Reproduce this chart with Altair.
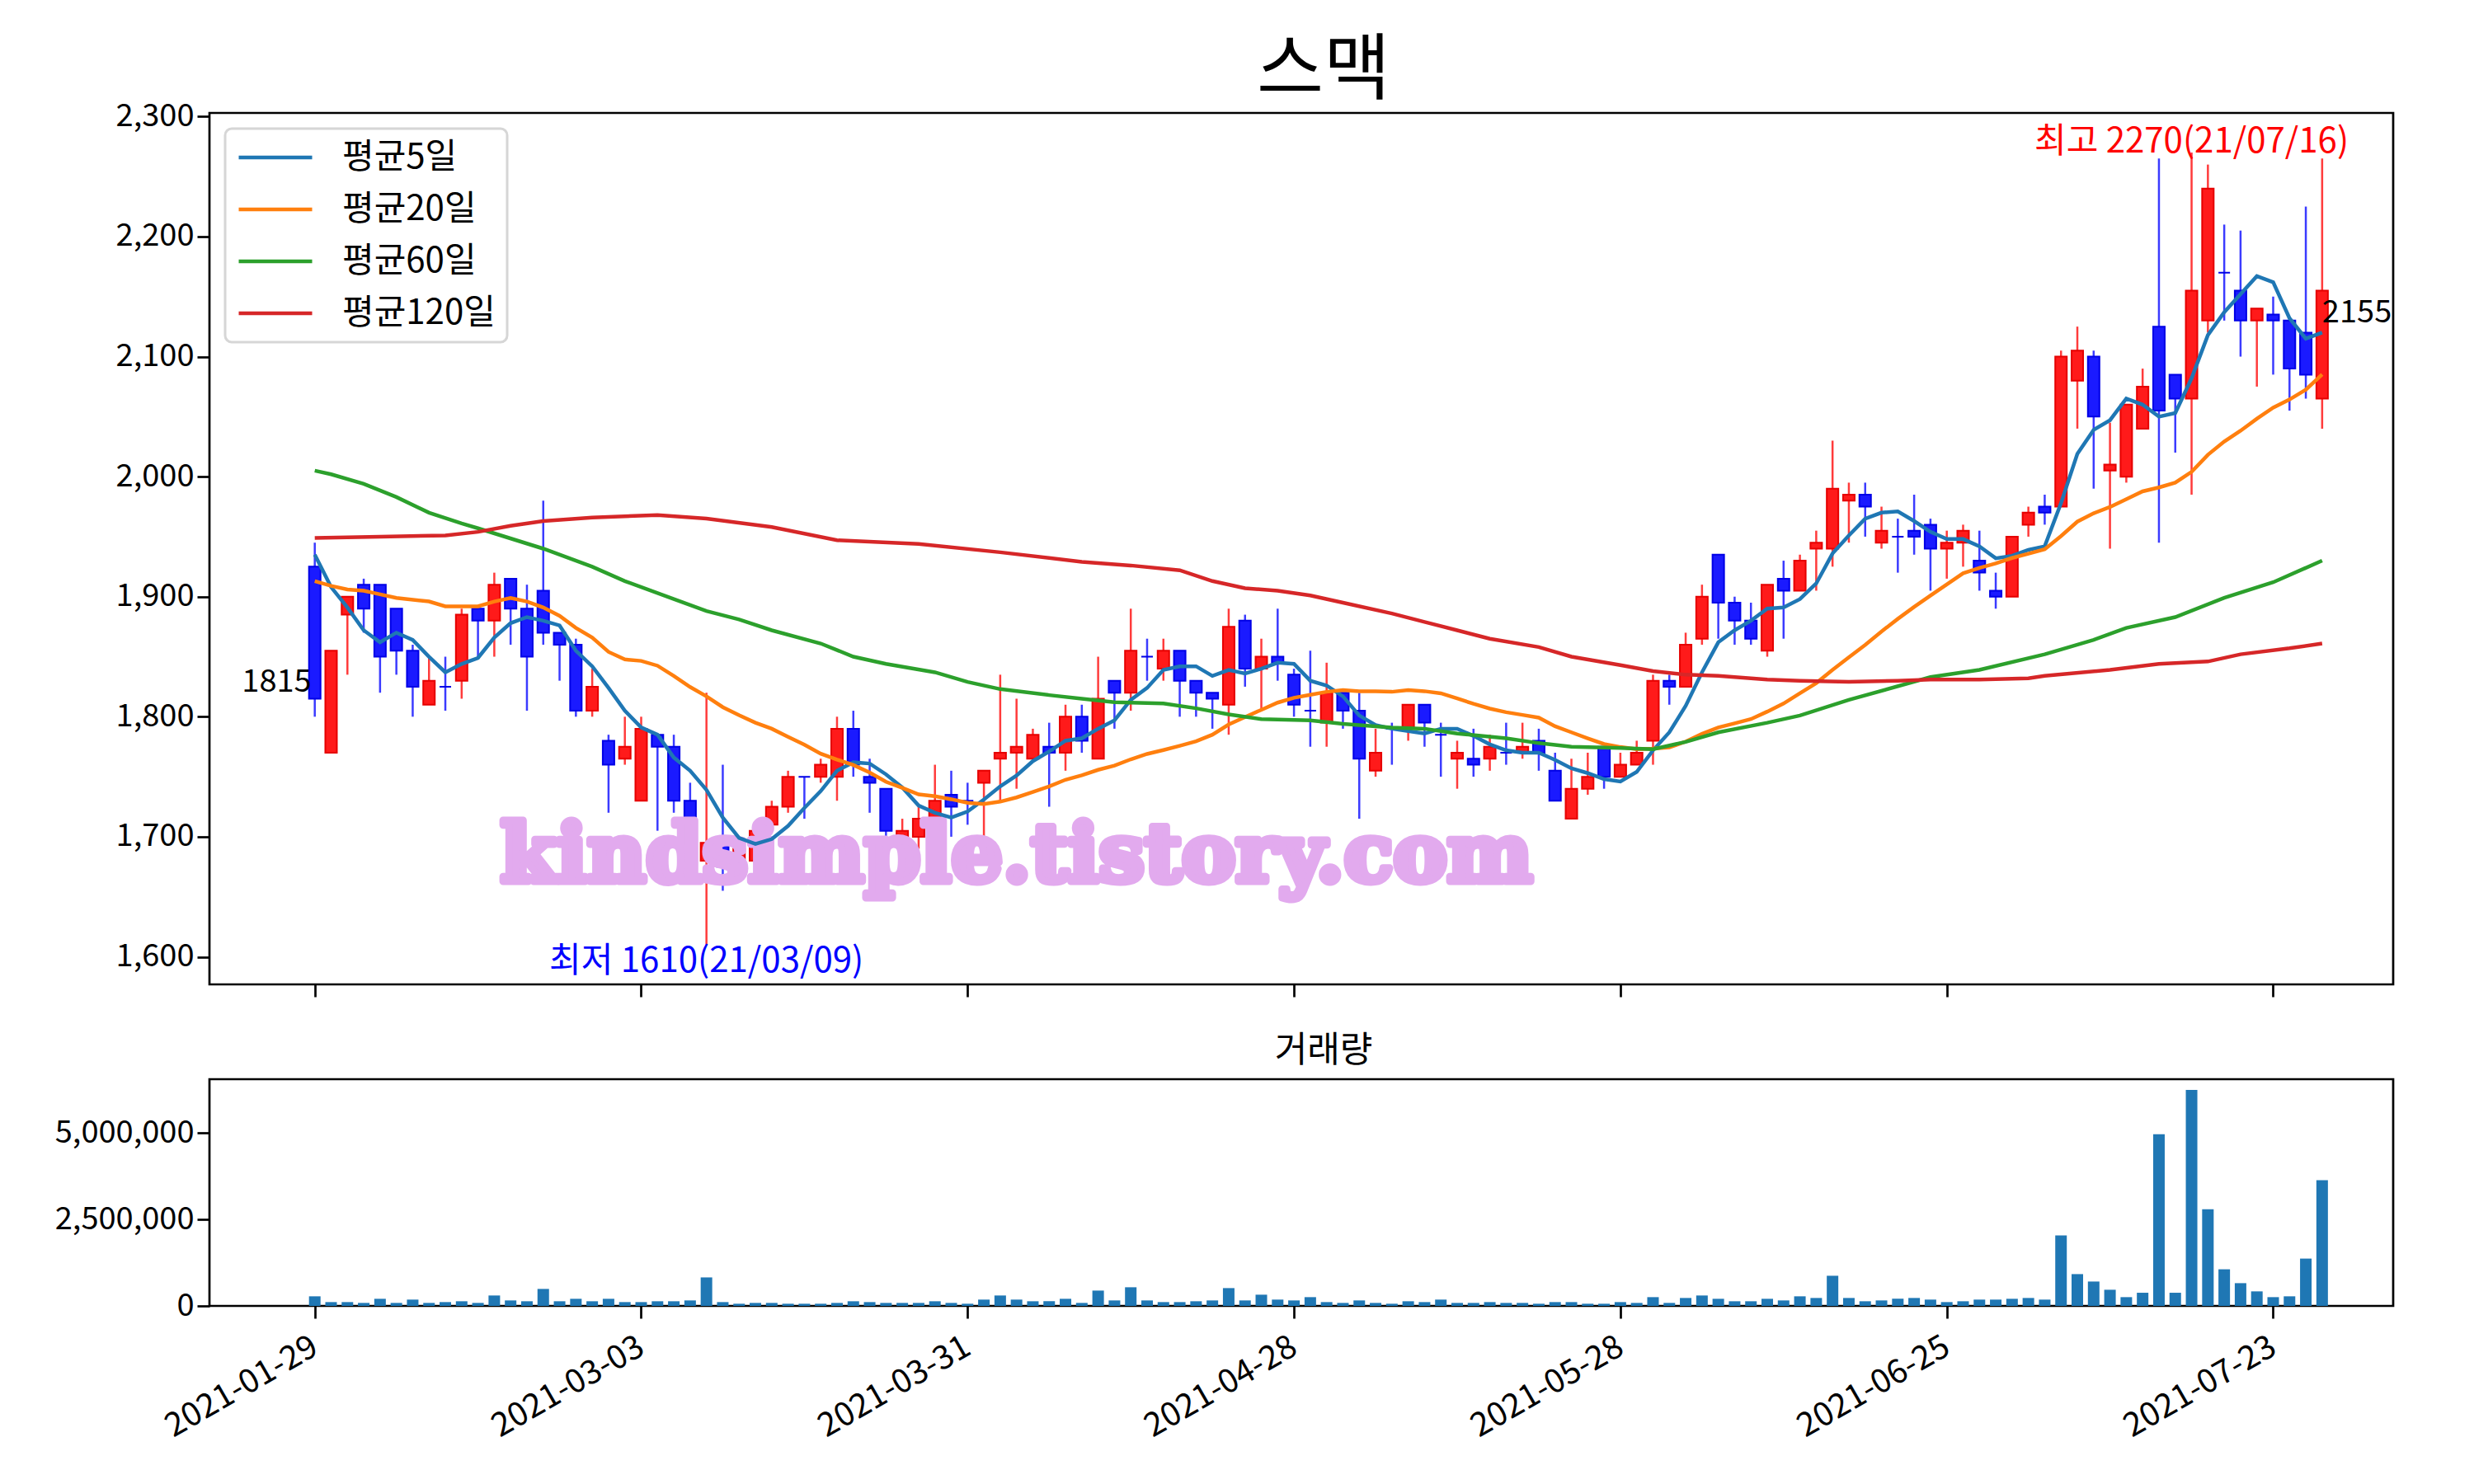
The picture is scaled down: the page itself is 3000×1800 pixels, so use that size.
import json
import altair as alt
import pandas as pd

# ---------------- data ----------------
opens = [1925, 1770, 1885, 1910, 1910, 1890, 1855, 1810, 1825, 1830,
         1890, 1880, 1915, 1890, 1905, 1870, 1860, 1805, 1780, 1765,
         1730, 1785, 1775, 1730, 1680, 1700, 1680, 1680, 1710, 1725,
         1750, 1750, 1750, 1790, 1750, 1740, 1695, 1700, 1715, 1735,
         1730, 1745, 1765, 1770, 1765, 1775, 1770, 1800, 1765, 1830,
         1820, 1850, 1840, 1855, 1830, 1820, 1810, 1880, 1840, 1850,
         1835, 1805, 1795, 1820, 1805, 1755, 1790, 1790, 1810, 1785,
         1765, 1765, 1765, 1770, 1770, 1780, 1755, 1715, 1740, 1775,
         1750, 1760, 1780, 1830, 1825, 1865, 1935, 1895, 1880, 1855,
         1915, 1905, 1940, 1940, 1980, 1985, 1945, 1950, 1955, 1960,
         1940, 1945, 1930, 1905, 1900, 1960, 1975, 1975, 2080, 2100,
         2005, 2000, 2040, 2125, 2085, 2065, 2130, 2170, 2155, 2130,
         2135, 2130, 2120, 2065]
highs = [1945, 1855, 1900, 1915, 1910, 1890, 1860, 1850, 1850, 1890,
         1890, 1920, 1915, 1910, 1980, 1870, 1865, 1840, 1785, 1800,
         1800, 1785, 1785, 1745, 1820, 1760, 1700, 1710, 1730, 1755,
         1750, 1765, 1800, 1805, 1765, 1740, 1715, 1725, 1760, 1755,
         1745, 1755, 1835, 1815, 1790, 1795, 1810, 1810, 1850, 1830,
         1890, 1865, 1865, 1855, 1830, 1820, 1890, 1885, 1865, 1890,
         1840, 1855, 1845, 1820, 1820, 1790, 1795, 1810, 1810, 1795,
         1780, 1790, 1785, 1795, 1795, 1790, 1770, 1765, 1770, 1775,
         1770, 1780, 1835, 1835, 1870, 1910, 1935, 1900, 1895, 1910,
         1930, 1935, 1955, 2030, 1995, 1995, 1975, 1965, 1985, 1965,
         1955, 1960, 1955, 1920, 1950, 1975, 1985, 2105, 2125, 2105,
         2045, 2060, 2090, 2265, 2085, 2270, 2260, 2210, 2205, 2140,
         2150, 2130, 2225, 2265]
lows = [1800, 1770, 1835, 1870, 1820, 1835, 1800, 1810, 1805, 1815,
        1850, 1850, 1860, 1805, 1860, 1830, 1800, 1800, 1720, 1760,
        1730, 1705, 1720, 1695, 1610, 1655, 1670, 1675, 1705, 1720,
        1715, 1745, 1730, 1750, 1720, 1700, 1690, 1690, 1710, 1700,
        1710, 1695, 1730, 1740, 1765, 1725, 1755, 1770, 1765, 1790,
        1805, 1830, 1830, 1800, 1800, 1790, 1785, 1825, 1805, 1830,
        1800, 1775, 1775, 1790, 1715, 1750, 1760, 1780, 1775, 1750,
        1740, 1750, 1755, 1760, 1765, 1755, 1730, 1715, 1735, 1740,
        1750, 1760, 1760, 1810, 1825, 1860, 1865, 1860, 1860, 1850,
        1865, 1905, 1905, 1925, 1945, 1950, 1940, 1920, 1935, 1905,
        1915, 1925, 1905, 1890, 1900, 1950, 1960, 1975, 2040, 1990,
        1940, 1995, 2040, 1945, 2020, 1985, 2120, 2130, 2100, 2075,
        2085, 2055, 2065, 2040]
closes = [1815, 1855, 1900, 1890, 1850, 1855, 1825, 1830, 1825, 1885,
          1880, 1910, 1890, 1850, 1870, 1860, 1805, 1825, 1760, 1775,
          1790, 1775, 1730, 1705, 1695, 1675, 1690, 1705, 1725, 1750,
          1750, 1760, 1790, 1760, 1745, 1705, 1705, 1715, 1730, 1725,
          1730, 1755, 1770, 1775, 1785, 1770, 1800, 1780, 1815, 1820,
          1855, 1850, 1855, 1830, 1820, 1815, 1875, 1840, 1850, 1845,
          1810, 1805, 1820, 1805, 1765, 1770, 1790, 1810, 1795, 1785,
          1770, 1760, 1775, 1770, 1775, 1770, 1730, 1740, 1750, 1750,
          1760, 1770, 1830, 1825, 1860, 1900, 1895, 1880, 1865, 1910,
          1905, 1930, 1945, 1990, 1985, 1975, 1955, 1950, 1950, 1940,
          1945, 1955, 1920, 1900, 1950, 1970, 1970, 2100, 2105, 2050,
          2010, 2060, 2075, 2055, 2065, 2155, 2240, 2170, 2130, 2140,
          2130, 2090, 2085, 2155]
volumes = [278000, 111000, 111000, 87000, 206000, 87000, 183000, 87000, 111000, 135000,
           87000, 302000, 159000, 135000, 492000, 135000, 206000, 135000, 206000, 111000,
           111000, 135000, 135000, 159000, 825000, 111000, 63000, 87000, 87000, 63000,
           63000, 63000, 87000, 135000, 111000, 87000, 87000, 87000, 135000, 87000,
           63000, 183000, 302000, 183000, 135000, 135000, 206000, 87000, 444000, 159000,
           540000, 159000, 111000, 111000, 135000, 159000, 516000, 159000, 325000, 183000,
           159000, 254000, 111000, 87000, 159000, 87000, 63000, 135000, 111000, 183000,
           87000, 87000, 111000, 87000, 87000, 63000, 111000, 111000, 63000, 63000,
           111000, 87000, 254000, 87000, 230000, 302000, 206000, 135000, 135000, 206000,
           159000, 278000, 230000, 873000, 230000, 135000, 159000, 206000, 230000, 183000,
           111000, 135000, 183000, 183000, 206000, 230000, 183000, 2040000, 921000, 706000,
           468000, 254000, 381000, 4970000, 381000, 6250000, 2800000, 1060000, 659000, 421000,
           254000, 278000, 1370000, 3640000]

# moving averages whose early part needs data from before the window
ma5_head = [1935, 1908, 1891, 1872]
ma20_head_idx = [0, 1, 2, 3, 4, 5, 7, 8, 10, 11, 12, 13, 14, 15, 16, 17, 18]
ma20_head_val = [1913, 1909, 1906, 1905, 1902, 1899, 1896, 1892, 1892, 1896,
                 1899, 1896, 1891, 1884, 1874, 1866, 1854]
ma60_idx = [0, 1, 3, 5, 7, 9, 10, 14, 17, 19, 22, 24, 26, 28, 31, 33, 35, 38, 40, 42,
            45, 47, 49, 52, 54, 56, 58, 61, 63, 66, 68, 70, 73, 75, 77, 80, 82, 84, 86, 89,
            91, 94, 99, 102, 106, 109, 111, 114, 117, 120, 123]
ma60_val = [2005, 2002, 1994, 1983, 1970, 1961, 1957, 1940, 1925, 1913, 1898, 1888, 1881,
            1872, 1861, 1850, 1844, 1837, 1829, 1823, 1818, 1815, 1812, 1811, 1807, 1802,
            1798, 1797, 1794, 1791, 1790, 1786, 1782, 1778, 1775, 1774, 1773, 1779, 1787,
            1795, 1801, 1814, 1833, 1839, 1852, 1864, 1874, 1883, 1899, 1912, 1930]
ma120_idx = [0, 4, 8, 10, 12, 14, 17, 21, 24, 28, 32, 37, 42, 47, 50, 53, 55, 57, 59, 61,
             63, 66, 68, 70, 72, 75, 77, 80, 82, 84, 86, 89, 91, 94, 97, 99, 102, 105, 106,
             110, 113, 116, 118, 121, 123]
ma120_val = [1949, 1950, 1951, 1954, 1959, 1963, 1966, 1968, 1965, 1958, 1947, 1944, 1937,
             1929, 1926, 1922, 1913, 1907, 1905, 1901, 1895, 1886, 1879, 1872, 1865, 1858,
             1850, 1843, 1838, 1835, 1834, 1831, 1830, 1829, 1830, 1831, 1831, 1832, 1834,
             1839, 1844, 1846, 1852, 1857, 1861]

ma_names = ["평균5일", "평균20일", "평균60일", "평균120일"]
ma_colors = ["#1f77b4", "#ff7f0e", "#2ca02c", "#d62728"]

tick_values = [0, 20, 40, 60, 80, 100, 120]
tick_labels = ["2021-01-29", "2021-03-03", "2021-03-31", "2021-04-28",
               "2021-05-28", "2021-06-25", "2021-07-23"]
high_date = "21/07/16"
low_date = "21/03/09"
title_text = "스맥"
volume_title = "거래량"
watermark_text = "kindsimple.tistory.com"
watermark_pos = [43, 1683]

# ---------------- tables ----------------
n = len(closes)
df = pd.DataFrame({"idx": list(range(n)), "open": opens, "high": highs,
                   "low": lows, "close": closes, "volume": volumes})
up = df["close"] > df["open"]
df["wick"] = up.map({True: "#ff3b3b", False: "#3b3bff"})
df["body"] = up.map({True: "#ff1a1a", False: "#1a1aff"})
df["edge"] = up.map({True: "#e60000", False: "#0000e6"})

ma5 = list(ma5_head) + [sum(closes[i - 4:i + 1]) / 5 for i in range(4, n)]
ma20_idx = list(ma20_head_idx) + list(range(19, n))
ma20_val = list(ma20_head_val) + [sum(closes[i - 19:i + 1]) / 20 for i in range(19, n)]

rows = []
for i, v in enumerate(ma5):
    rows.append({"idx": i, "value": v, "series": ma_names[0]})
for i, v in zip(ma20_idx, ma20_val):
    rows.append({"idx": i, "value": v, "series": ma_names[1]})
for i, v in zip(ma60_idx, ma60_val):
    rows.append({"idx": i, "value": v, "series": ma_names[2]})
for i, v in zip(ma120_idx, ma120_val):
    rows.append({"idx": i, "value": v, "series": ma_names[3]})
ma_df = pd.DataFrame(rows)

hi_i = max(range(n), key=lambda k: highs[k])
lo_i = min(range(n), key=lambda k: lows[k])
first_df = pd.DataFrame({"idx": [0], "y": [closes[0]], "t": [str(closes[0])]})
last_df = pd.DataFrame({"idx": [n - 1], "y": [closes[-1]], "t": [str(closes[-1])]})
high_df = pd.DataFrame({"idx": [hi_i], "y": [highs[hi_i]], "t": [f"최고 {highs[hi_i]}({high_date})"]})
low_df = pd.DataFrame({"idx": [lo_i], "y": [lows[lo_i]], "t": [f"최저 {lows[lo_i]}({low_date})"]})
wm_df = pd.DataFrame({"idx": [watermark_pos[0]], "y": [watermark_pos[1]], "t": [watermark_text]})

# ---------------- styling ----------------
FONT = "Noto Sans CJK KR"
LBL = 38
NOTE = 42
PLOT_W = 2648
EXT = 244

x_scale = alt.Scale(domain=[-6.2, 127.1], nice=False, zero=False)
y_scale = alt.Scale(domain=[1577, 2303], nice=False, zero=False)
v_scale = alt.Scale(domain=[0, 6562500], nice=False, zero=False)

top_x_axis = alt.Axis(values=tick_values, labels=False, ticks=True, tickSize=15,
                      tickWidth=2.7, tickColor="black", domain=False, grid=False, title=None)
top_y_axis = alt.Axis(values=[1600, 1700, 1800, 1900, 2000, 2100, 2200, 2300], format=",.0f",
                      labelFontSize=LBL, labelFont=FONT, labelColor="black", labelPadding=4,
                      tickSize=15, tickWidth=2.7, tickColor="black", domain=False, grid=False,
                      title=None, minExtent=EXT, maxExtent=EXT)

label_expr = "%s[round(datum.value / 20)]" % json.dumps(tick_labels)
bot_x_axis = alt.Axis(values=tick_values, labelExpr=label_expr, labelAngle=-30,
                      labelAlign="right", labelBaseline="top", labelFontSize=40,
                      labelFont=FONT, labelColor="black", labelPadding=14, labelOffset=-10,
                      labelLimit=600, tickSize=15, tickWidth=2.7, tickColor="black",
                      domain=False, grid=False, title=None, labelOverlap=False)
bot_y_axis = alt.Axis(values=[0, 2500000, 5000000], format=",.0f", labelFontSize=LBL,
                      labelFont=FONT, labelColor="black", labelPadding=4, tickSize=15,
                      tickWidth=2.7, tickColor="black", domain=False, grid=False,
                      title=None, minExtent=EXT, maxExtent=EXT)

base = alt.Chart(df)
wicks = base.mark_rule(strokeWidth=2.5).encode(
    x=alt.X("idx:Q", scale=x_scale, axis=top_x_axis),
    y=alt.Y("low:Q", scale=y_scale, axis=top_y_axis),
    y2="high:Q",
    color=alt.Color("wick:N", scale=None),
)
bodies = base.mark_bar(size=14, strokeWidth=2).encode(
    x="idx:Q", y="open:Q", y2="close:Q",
    fill=alt.Fill("body:N", scale=None),
    stroke=alt.Stroke("edge:N", scale=None),
)
watermark = alt.Chart(wm_df).mark_text(
    font="DejaVu Serif", fontWeight="bold", fontSize=98, color="#e2aaee",
    stroke="#e2aaee", strokeWidth=9, strokeJoin="round",
    align="center", baseline="middle",
).encode(x="idx:Q", y="y:Q", text="t:N")

lines = alt.Chart(ma_df).mark_line(strokeWidth=4.5).encode(
    x="idx:Q", y="value:Q",
    color=alt.Color("series:N", scale=alt.Scale(domain=ma_names, range=ma_colors),
                    legend=alt.Legend(title=None, orient="none", legendX=19, legendY=19,
                                      symbolType="stroke", symbolSize=7921,
                                      symbolStrokeWidth=4.5, labelFontSize=NOTE,
                                      labelFont=FONT, labelColor="black", labelOffset=34,
                                      labelLimit=500, padding=14, rowPadding=21,
                                      clipHeight=42,
                                      strokeColor="#d6d6d6", fillColor="white",
                                      cornerRadius=8)),
    order="idx:Q",
)

def note(d, color, align, baseline, size, dx=0, dy=0):
    return alt.Chart(d).mark_text(font=FONT, fontSize=size, color=color, align=align,
                                  baseline=baseline, dx=dx, dy=dy).encode(
        x="idx:Q", y="y:Q", text="t:N")

notes = [
    note(first_df, "black", "right", "bottom", LBL, -4),
    note(last_df, "black", "left", "top", LBL, 0, 9),
    note(high_df, "red", "center", "alphabetic", NOTE),
    note(low_df, "blue", "center", "top", NOTE),
]

top = alt.layer(wicks, bodies, watermark, lines, *notes).properties(
    width=PLOT_W, height=1057,
    title=alt.TitleParams(title_text, fontSize=88, font=FONT, fontWeight="normal",
                          color="black", anchor="middle", frame="group", dx=27,
                          offset=-97, baseline="bottom"),
)

vol = alt.Chart(df).mark_bar(size=14, color="#1f77b4").encode(
    x=alt.X("idx:Q", scale=x_scale, axis=bot_x_axis),
    y=alt.Y("volume:Q", scale=v_scale, axis=bot_y_axis),
).properties(
    width=PLOT_W, height=275,
    title=alt.TitleParams(volume_title, fontSize=43, font=FONT, fontWeight="normal",
                          color="black", anchor="middle", frame="group", dx=27,
                          offset=-31, baseline="bottom"),
)

chart = alt.vconcat(top, vol, spacing=40).resolve_legend(color="independent").properties(
    padding={"left": 0, "top": 34, "right": 20, "bottom": 10},
).configure(font=FONT).configure_view(stroke="black", strokeWidth=2.7).configure_legend(
    strokeWidth=3)

chart.save("out.html", embed_options={"renderer": "svg", "actions": False})
